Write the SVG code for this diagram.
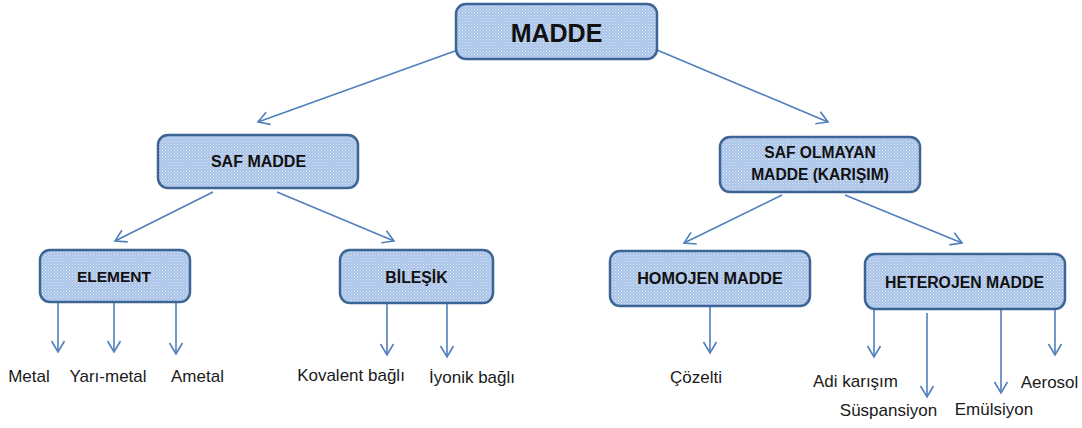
<svg xmlns="http://www.w3.org/2000/svg" width="1082" height="428" viewBox="0 0 1082 428">
<defs>
<pattern id="dots" width="3" height="3" patternUnits="userSpaceOnUse">
<rect width="3" height="3" fill="#a9c3e8"/>
<rect width="1" height="1" fill="#e2ebf8"/>
<rect x="1.5" y="1.5" width="1" height="1" fill="#d6e3f5"/>
</pattern>
<marker id="arr" markerUnits="userSpaceOnUse" markerWidth="16" markerHeight="16" viewBox="-14 -8 16 16" refX="0" refY="0" orient="auto">
<path d="M-11,-6.5 L0,0 L-11,6.5" fill="none" stroke="#4f7fbc" stroke-width="1.6"/>
</marker>
<style>
.box{fill:url(#dots);stroke:#3c6494;stroke-width:2.5}
.bt{font-family:"Liberation Sans",Arial,sans-serif;font-weight:bold;fill:#111;text-anchor:middle}
.lb{font-family:"Liberation Sans",Arial,sans-serif;font-size:17px;fill:#1a1a1a;text-anchor:middle}
.c{stroke:#4f7fbc;stroke-width:1.6;fill:none;marker-end:url(#arr)}
</style>
</defs>
<rect width="1082" height="428" fill="#ffffff"/>
<g id="connectors">
<line class="c" x1="455" y1="51" x2="258" y2="122"/>
<line class="c" x1="657" y1="50" x2="828" y2="122"/>
<line class="c" x1="213" y1="192" x2="115" y2="241"/>
<line class="c" x1="277" y1="192" x2="394" y2="241"/>
<line class="c" x1="782" y1="195" x2="684" y2="243"/>
<line class="c" x1="845" y1="195" x2="962" y2="243"/>
<line class="c" x1="58" y1="302" x2="58" y2="352"/>
<line class="c" x1="114" y1="302" x2="114" y2="352"/>
<line class="c" x1="176" y1="302" x2="176" y2="354"/>
<line class="c" x1="387" y1="304" x2="387" y2="355"/>
<line class="c" x1="447" y1="304" x2="447" y2="357"/>
<line class="c" x1="710" y1="307" x2="710" y2="353"/>
<line class="c" x1="874" y1="309" x2="874" y2="357"/>
<line class="c" x1="927" y1="313" x2="927" y2="397"/>
<line class="c" x1="1001" y1="309" x2="1001" y2="393"/>
<line class="c" x1="1055" y1="305" x2="1055" y2="355"/>
</g>
<g id="madde">
<rect class="box" x="456" y="4" width="201" height="55" rx="10"/>
<text class="bt" x="556.5" y="42" font-size="25">MADDE</text>
</g>
<g id="saf-madde">
<rect class="box" x="158" y="135" width="200" height="53" rx="10"/>
<text class="bt" x="258.5" y="167" font-size="16">SAF MADDE</text>
</g>
<g id="saf-olmayan">
<rect class="box" x="720" y="137" width="200" height="55" rx="10"/>
<text class="bt" x="820" y="158" font-size="15.6">SAF OLMAYAN</text>
<text class="bt" x="820" y="180" font-size="15.6">MADDE (KARIŞIM)</text>
</g>
<g id="element">
<rect class="box" x="40" y="250" width="150" height="52" rx="10"/>
<text class="bt" x="114" y="282" font-size="15.5">ELEMENT</text>
</g>
<g id="bilesik">
<rect class="box" x="340" y="250" width="153" height="53" rx="10"/>
<text class="bt" x="416.5" y="283" font-size="15.8">BİLEŞİK</text>
</g>
<g id="homojen">
<rect class="box" x="610" y="251" width="200" height="55" rx="10"/>
<text class="bt" x="710" y="284" font-size="16.2">HOMOJEN MADDE</text>
</g>
<g id="heterojen">
<rect class="box" x="865" y="254" width="200" height="55" rx="10"/>
<text class="bt" x="964.5" y="288" font-size="15.8">HETEROJEN MADDE</text>
</g>
<g id="labels">
<text class="lb" x="29" y="382">Metal</text>
<text class="lb" x="108" y="382">Yarı-metal</text>
<text class="lb" x="197.5" y="382">Ametal</text>
<text class="lb" x="351" y="381">Kovalent bağlı</text>
<text class="lb" x="472" y="383">İyonik bağlı</text>
<text class="lb" x="696" y="383">Çözelti</text>
<text class="lb" x="855.5" y="387">Adi karışım</text>
<text class="lb" x="888.5" y="416">Süspansiyon</text>
<text class="lb" x="994" y="415">Emülsiyon</text>
<text class="lb" x="1049.5" y="388">Aerosol</text>
</g>
</svg>
